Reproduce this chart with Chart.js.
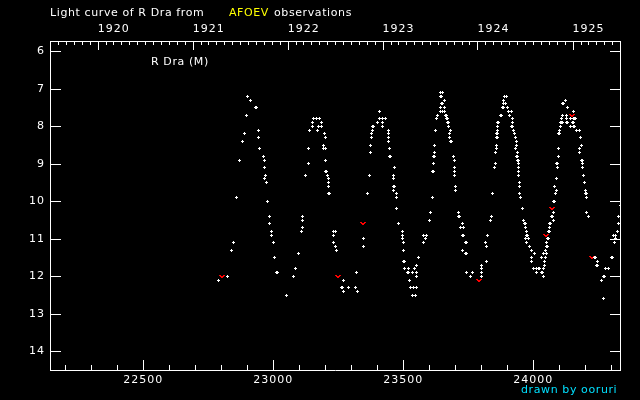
<!DOCTYPE html>
<html>
<head>
<meta charset="utf-8">
<title>R Dra light curve</title>
<script src="https://cdn.jsdelivr.net/npm/chart.js@4.4.1/dist/chart.umd.min.js"></script>
<style>
  html, body { margin: 0; background: #000; }
  #wrap { position: relative; width: 640px; height: 400px; }
  .t { position: absolute; font: 11px "DejaVu Sans", sans-serif; line-height: 13px; color: #fff; white-space: pre; letter-spacing: 0.6px; }
</style>
</head>
<body>
<div id="wrap">
  <canvas id="lc" width="640" height="400"></canvas>
  <div class="t" style="left:50px; top:6px">Light curve of R Dra from</div>
  <div class="t" style="left:229px; top:6px; color:#ffff00">AFOEV</div>
  <div class="t" style="left:274px; top:6px">observations</div>
  <div class="t" style="left:151px; top:55px">R Dra (M)</div>
  <div class="t" style="left:521px; top:383px; color:#00e0ff">drawn by ooruri</div>
</div>
<script>
// axis ranges (JD - 2400000, magnitude)
const jdMin = 22141, jdMax = 24334;
const magMin = 5.72, magMax = 14.5;

const jdTicks = [22500, 23000, 23500, 24000];
const magTicks = [6, 7, 8, 9, 10, 11, 12, 13, 14];
const yearTicks = [1920, 1921, 1922, 1923, 1924, 1925];

// visual estimates [JD, mag]
const visual = [
  [22788,12.1],[22823,12.0],[22838,11.3],[22846,11.1],[22858,9.9],[22869,8.9],[22881,8.4],[22888,8.2],[22896,7.7],[22900,7.2],
  [22912,7.3],[22933,7.5],[22937,7.5],[22942,8.1],[22942,8.3],[22946,8.6],[22963,8.8],[22965,8.9],[22965,9.1],[22971,9.3],
  [22965,9.4],[22973,9.5],[22977,10.0],[22985,10.4],[22985,10.6],[22992,10.8],[22992,10.9],[23000,11.1],[23004,11.5],[23013,11.9],
  [23017,11.9],[23050,12.5],
  [23077,12.0],[23085,11.8],[23096,11.4],[23108,10.8],[23112,10.7],[23113,10.4],[23113,10.5],[23123,9.3],[23135,9.0],[23135,8.6],
  [23138,8.1],[23150,8.0],[23150,7.9],[23154,7.8],[23167,7.8],[23169,8.1],[23173,8.0],[23177,7.8],[23184,7.9],[23187,7.9],
  [23185,8.0],[23192,8.5],[23192,8.6],[23196,8.2],[23200,8.3],[23200,8.6],[23200,8.9],[23202,9.2],[23205,9.2],[23208,9.3],
  [23212,9.4],[23212,9.5],[23212,9.6],[23213,9.8],[23216,9.8],[23231,10.8],[23238,10.8],[23231,10.9],[23231,11.1],[23238,11.2],
  [23242,11.3],[23262,12.3],[23266,12.3],[23269,12.1],[23269,12.4],[23288,12.3],[23315,12.3],[23319,11.9],[23323,12.4],
  [23346,11.0],[23346,11.2],[23362,9.8],[23369,9.3],[23373,8.7],[23373,8.5],[23377,8.3],[23377,8.2],[23381,8.1],[23383,8.0],
  [23387,8.0],[23400,7.9],[23408,7.8],[23408,7.6],[23419,7.8],[23431,7.8],[23419,7.9],[23419,8.0],[23442,8.1],[23442,8.2],
  [23442,8.3],[23442,8.4],[23446,8.6],[23448,8.8],[23451,8.8],[23465,9.1],[23462,9.3],[23462,9.4],[23463,9.6],[23466,9.6],
  [23462,9.7],[23473,9.8],[23473,9.9],[23473,10.2],[23481,10.6],[23496,10.8],[23496,10.9],[23496,11.0],[23500,11.1],[23500,11.3],
  [23502,11.6],[23505,11.6],[23504,11.8],[23521,11.8],[23544,11.8],[23550,11.7],[23558,11.5],[23516,11.9],[23520,11.9],[23534,11.9],
  [23550,11.9],[23550,12.0],[23523,12.1],[23527,12.3],[23538,12.3],[23550,12.3],[23535,12.5],[23546,12.5],
  [23577,10.9],[23588,10.9],[23585,11.0],[23577,11.1],[23600,10.5],[23604,10.3],[23612,9.9],[23612,9.2],[23615,9.2],[23615,9.0],
  [23617,8.8],[23620,8.8],[23619,8.7],[23619,8.5],[23623,8.1],[23628,7.8],[23631,7.7],[23642,7.6],[23650,7.6],[23658,7.6],
  [23642,7.5],[23658,7.5],[23646,7.4],[23650,7.4],[23658,7.3],[23644,7.2],[23648,7.2],[23642,7.1],[23650,7.1],[23663,7.7],
  [23667,7.7],[23667,7.8],[23671,7.8],[23671,7.9],[23675,7.9],[23673,8.0],[23681,8.1],[23677,8.2],[23677,8.3],[23681,8.4],
  [23685,8.4],[23692,8.8],[23696,8.9],[23696,9.1],[23696,9.2],[23696,9.3],[23700,9.6],[23700,9.7],[23712,10.3],[23712,10.4],
  [23716,10.4],[23727,10.6],[23719,10.7],[23731,10.7],[23727,10.9],[23731,10.9],[23739,11.1],[23743,11.1],[23727,11.3],[23739,11.4],
  [23743,11.4],[23742,11.9],[23765,11.9],[23758,12.0],[23800,11.7],[23800,11.8],[23800,11.9],[23800,12.0],
  [23819,11.6],[23815,11.1],[23819,11.2],[23823,10.9],[23835,10.5],[23838,10.4],[23842,9.8],[23850,9.1],[23854,9.0],[23854,8.7],
  [23858,8.6],[23858,8.5],[23857,8.3],[23861,8.3],[23857,8.2],[23861,8.2],[23862,8.1],[23863,8.0],[23861,7.9],[23865,7.9],
  [23873,7.7],[23877,7.7],[23883,7.5],[23887,7.5],[23900,7.5],[23885,7.4],[23892,7.4],[23885,7.3],[23888,7.2],[23896,7.2],
  [23904,7.6],[23915,7.6],[23908,7.7],[23919,7.8],[23919,7.9],[23917,8.0],[23921,8.0],[23923,8.1],[23927,8.2],[23931,8.3],
  [23935,8.4],[23935,8.5],[23931,8.6],[23938,8.7],[23934,8.8],[23938,8.8],[23938,8.9],[23942,8.9],[23942,9.0],[23942,9.1],
  [23942,9.2],[23942,9.3],[23946,9.5],[23946,9.6],[23946,9.8],[23950,9.9],[23958,10.2],[23962,10.5],[23965,10.6],[23969,10.6],
  [23971,10.7],[23975,10.8],[23975,10.9],[23979,10.9],[23969,11.0],[23981,11.0],[23973,11.1],[23985,11.2],[23992,11.3],[24004,11.4],
  [23992,11.5],[23992,11.6],[24000,11.8],[24012,11.8],[24021,11.8],[24025,11.8],[24012,11.9],[24031,11.9],[24035,11.9],[24038,11.8],
  [24038,12.0],[24031,11.5],[24042,11.6],[24046,11.5],[24042,11.7],[24038,11.4],[24050,11.4],[24046,11.3],[24050,11.2],[24054,11.2],
  [24050,11.1],[24055,11.0],[24059,11.0],[24060,10.8],[24064,10.8],[24063,10.6],[24067,10.6],[24062,10.7],[24079,10.5],[24077,10.3],
  [24070,10.4],[24074,10.4],[24077,10.0],[24081,10.0],[24087,9.8],[24089,9.7],[24081,9.6],[24089,9.4],[24090,9.0],[24094,9.0],
  [24094,9.1],[24096,8.8],[24096,8.6],[24096,8.2],[24100,8.2],[24102,8.1],[24104,8.0],[24106,7.9],[24110,7.8],[24108,7.9],
  [24112,7.9],[24113,7.7],[24127,7.7],[24127,7.8],[24113,7.4],[24117,7.4],[24123,7.3],[24131,7.5],[24128,7.9],[24132,7.9],
  [24142,7.8],[24142,8.0],[24154,7.6],[24154,7.8],[24160,7.8],[24164,7.8],[24150,7.9],[24154,7.9],[24155,8.0],[24159,8.0],
  [24165,8.1],[24177,8.1],[24181,8.3],[24185,8.5],[24177,8.6],[24177,8.7],[24184,8.9],[24188,8.9],[24189,9.0],[24189,9.1],
  [24192,9.3],[24196,9.5],[24200,9.7],[24201,9.8],[24205,9.8],[24204,9.9],[24204,10.3],[24212,10.4],
  [24236,11.5],[24240,11.5],[24246,11.6],[24243,11.7],[24247,11.7],[24277,11.8],[24288,11.8],[24270,12.0],[24274,12.0],[24262,12.1],
  [24269,12.6],[24301,11.5],[24305,11.5],[24312,11.1],[24315,11.0],[24308,10.9],[24315,10.9],[24323,10.8],[24327,10.6],[24327,10.4],
  [24335,10.1]
];

// "fainter than" estimates [JD, mag]
const fainter = [
  [22801,12.0],[23250,12.0],[23346,10.6],[23790,12.1],[24050,10.9],[24073,10.2],[24150,7.7],[24227,11.5]
];

const jdOfDate = (y, m) => Date.UTC(y, m, 1) / 864e5 + 40587.5;

// pixel markers: 3x3 white plus, small red "v"
function pixelMark(w, h, color, cells) {
  const c = document.createElement('canvas');
  c.width = w; c.height = h;
  const g = c.getContext('2d');
  g.fillStyle = color;
  cells.forEach(([x, y]) => g.fillRect(x, y, 1, 1));
  return c;
}
const plusMark = pixelMark(3, 3, '#ffffff', [[1,0],[0,1],[1,1],[2,1],[1,2]]);
const vMark = pixelMark(6, 3, '#ff0000', [[0,0],[1,0],[4,0],[5,0],[1,1],[2,1],[3,1],[4,1],[2,2],[3,2]]);

// inward tick marks on all four sides
const inTicks = {
  id: 'inTicks',
  beforeDraw(c) { c.ctx.letterSpacing = '1px'; c.ctx.imageSmoothingEnabled = false; },
  afterDraw(c) {
    const { ctx, chartArea: a, scales } = c;
    ctx.save();
    ctx.strokeStyle = '#fff';
    ctx.lineWidth = 1;
    ctx.beginPath();
    for (let v = 22200; v <= 24300; v += 100) {
      const px = Math.round(scales.x.getPixelForValue(v)) + 0.5;
      const len = v % 500 ? 5 : 10;
      ctx.moveTo(px, a.bottom); ctx.lineTo(px, a.bottom - len);
    }
    for (let y = 1919; y <= 1925; y++) {
      for (let m = 0; m < 12; m++) {
        const jd = jdOfDate(y, m);
        if (jd < jdMin || jd > jdMax) continue;
        const px = Math.round(scales.xTop.getPixelForValue(jd)) + 0.5;
        const len = m === 0 ? 9 : 4;
        ctx.moveTo(px, a.top); ctx.lineTo(px, a.top + len);
      }
    }
    magTicks.forEach(v => {
      const py = Math.round(scales.y.getPixelForValue(v)) + 0.5;
      ctx.moveTo(a.left, py); ctx.lineTo(a.left + 11, py);
      ctx.moveTo(a.right, py); ctx.lineTo(a.right - 10, py);
    });
    ctx.stroke();
    ctx.restore();
  }
};

const tickFont = { family: '"DejaVu Sans", sans-serif', size: 11 };

new Chart(document.getElementById('lc'), {
  type: 'scatter',
  data: {
    datasets: [
      {
        label: 'visual',
        data: visual.map(([x, y]) => ({ x, y })),
        pointStyle: plusMark,
        pointRadius: 2
      },
      {
        label: 'fainter than',
        data: fainter.map(([x, y]) => ({ x, y })),
        pointStyle: vMark,
        pointRadius: 3
      }
    ]
  },
  options: {
    responsive: false,
    animation: false,
    events: [],
    layout: { padding: 0 },
    plugins: { legend: { display: false }, tooltip: { enabled: false } },
    scales: {
      x: {
        type: 'linear', position: 'bottom', min: jdMin, max: jdMax,
        afterBuildTicks: s => { s.ticks = jdTicks.map(v => ({ value: v })); },
        afterFit: s => { s.height = 30; },
        grid: { display: false, drawTicks: false },
        border: { color: '#fff', width: 1 },
        ticks: { color: '#fff', font: tickFont, padding: 4, maxRotation: 0, autoSkip: false, callback: v => String(v) }
      },
      xTop: {
        axis: 'x', type: 'linear', position: 'top', min: jdMin, max: jdMax,
        afterBuildTicks: s => { s.ticks = yearTicks.map(y => ({ value: jdOfDate(y, 0) })); },
        afterFit: s => { s.height = 41; },
        grid: { display: false, drawTicks: false },
        border: { color: '#fff', width: 1 },
        ticks: { color: '#fff', font: tickFont, padding: 5, align: 'start', maxRotation: 0, autoSkip: false,
                 callback: (v, i) => String(yearTicks[i]) }
      },
      y: {
        type: 'linear', position: 'left', reverse: true, min: magMin, max: magMax,
        afterBuildTicks: s => { s.ticks = magTicks.map(v => ({ value: v })); },
        afterFit: s => { s.width = 50; },
        grid: { display: false, drawTicks: false },
        border: { color: '#fff', width: 1 },
        ticks: { color: '#fff', font: tickFont, padding: 5, autoSkip: false, callback: v => String(v) }
      },
      yRight: {
        axis: 'y', type: 'linear', position: 'right', reverse: true, min: magMin, max: magMax,
        afterFit: s => { s.width = 20; },
        grid: { display: false, drawTicks: false },
        border: { color: '#fff', width: 1 },
        ticks: { display: false }
      }
    }
  },
  plugins: [inTicks]
});
</script>
</body>
</html>
